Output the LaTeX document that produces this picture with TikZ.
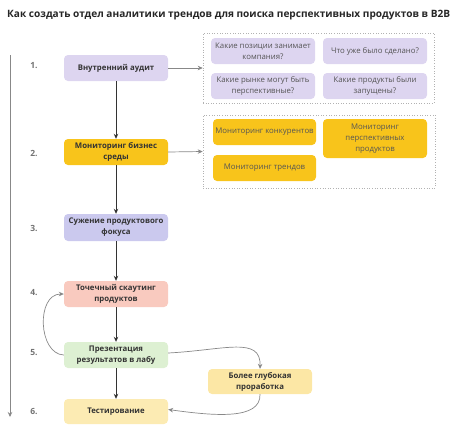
\documentclass[tikz,border=0pt]{standalone}
\usepackage{fontspec}
\setmainfont{Open Sans}
\usetikzlibrary{arrows.meta}
\definecolor{txt}{HTML}{333333}
\definecolor{subtxt}{HTML}{555555}
\definecolor{lav}{HTML}{DDD5F0}
\definecolor{gold}{HTML}{F8C41B}
\definecolor{blu}{HTML}{CBC9EE}
\definecolor{sal}{HTML}{F9CABF}
\definecolor{grn}{HTML}{DDF0D2}
\definecolor{ylw}{HTML}{FCEBB3}
\definecolor{ylw2}{HTML}{FCE7A5}
\definecolor{lgray}{HTML}{888888}
\tikzset{
  x=1pt, y=-1pt,
  mainbox/.style={rounded corners=4pt, minimum width=104pt, minimum height=26pt, align=center, inner sep=1pt, font=\fontsize{7.8}{11}\selectfont\bfseries, text=txt},
  subbox/.style={rounded corners=4pt, minimum width=104pt, minimum height=26pt, align=center, inner sep=1pt, font=\fontsize{7.8}{11}\selectfont, text=subtxt},
  grp/.style={draw=black!30, dotted, line width=0.6pt},
  num/.style={font=\fontsize{8.5}{10}\selectfont\bfseries, text=black!55},
  darr/.style={draw=txt, line width=0.7pt, -{Stealth[length=5pt,width=4.5pt]}},
  garr/.style={draw=lgray, line width=0.7pt, -{Stealth[length=5pt,width=4.5pt]}},
}
\begin{document}
\begin{tikzpicture}
\useasboundingbox (0,0) rectangle (474,429);
\node[anchor=west, font=\fontsize{10.1}{12}\selectfont\bfseries, text=black!85, inner sep=0] (title) at (7,15) {Как создать отдел аналитики трендов для поиска перспективных продуктов в B2B};

% timeline
\coordinate (ls) at (10,55);
\coordinate (le) at (10,417);
\draw[garr] (ls) -- (le);

% numbers
\node[num] (n1) at (34,66) {1.};
\node[num] (n2) at (34,153) {2.};
\node[num] (n3) at (34,228) {3.};
\node[num] (n4) at (34,293) {4.};
\node[num] (n5) at (34,353) {5.};
\node[num] (n6) at (34,411) {6.};

% main boxes
\node[mainbox, fill=lav] (b1) at (116,68) {Внутренний аудит};
\node[mainbox, fill=gold] (b2) at (116,152) {Мониторинг бизнес\\среды};
\node[mainbox, fill=blu, minimum height=27pt] (b3) at (116,227.5) {Сужение продуктового\\фокуса};
\node[mainbox, fill=sal] (b4) at (116,294) {Точечный скаутинг\\продуктов};
\node[mainbox, fill=grn] (b5) at (116,355) {Презентация\\результатов в лабу};
\node[mainbox, fill=ylw, minimum height=25pt] (b6) at (116,411.5) {Тестирование};
\node[mainbox, fill=ylw2, minimum height=25pt] (b7) at (260,381.5) {Более глубокая\\проработка};

% groups
\node[grp, minimum width=231pt, minimum height=70pt, inner sep=0] (g1) at (318.5,68) {};
\node[grp, minimum width=232pt, minimum height=73pt, inner sep=0] (g2) at (319,151.5) {};

% group 1 contents
\node[subbox, fill=lav] (q1) at (263,51) {Какие позиции занимает\\компания?};
\node[subbox, fill=lav] (q2) at (375,51) {Что уже было сделано?};
\node[subbox, fill=lav] (q3) at (263,86) {Какие рынке могут быть\\перспективные?};
\node[subbox, fill=lav] (q4) at (375,86) {Какие продукты были\\запущены?};

% group 2 contents
\node[subbox, fill=gold, minimum width=103pt] (m1) at (264.5,132) {Мониторинг конкурентов};
\node[subbox, fill=gold, minimum width=103pt] (m2) at (264.5,168) {Мониторинг трендов};
\node[subbox, fill=gold, minimum height=39pt] (m3) at (375,138.5) {Мониторинг\\перспективных\\продуктов};

% connectors
\draw[darr] (b1) -- (b2);
\draw[darr] (b2) -- (b3);
\draw[darr] (b3) -- (b4);
\draw[darr] (b4) -- (b5);
\draw[darr] (b5) -- (b6);
\draw[garr] (b1.east) -- (g1.west);
\draw[garr] (b2.east) -- (g2.west);
\draw[garr] (b5.west) .. controls (38,354) and (36,294) .. (b4.west);
\draw[garr] ([yshift=2pt]b5.east) .. controls (225,350) and (261,336) .. (b7.north);
\draw[garr] (b7.south) .. controls (261,420) and (215,416) .. ([yshift=2pt]b6.east);
\end{tikzpicture}
\end{document}
